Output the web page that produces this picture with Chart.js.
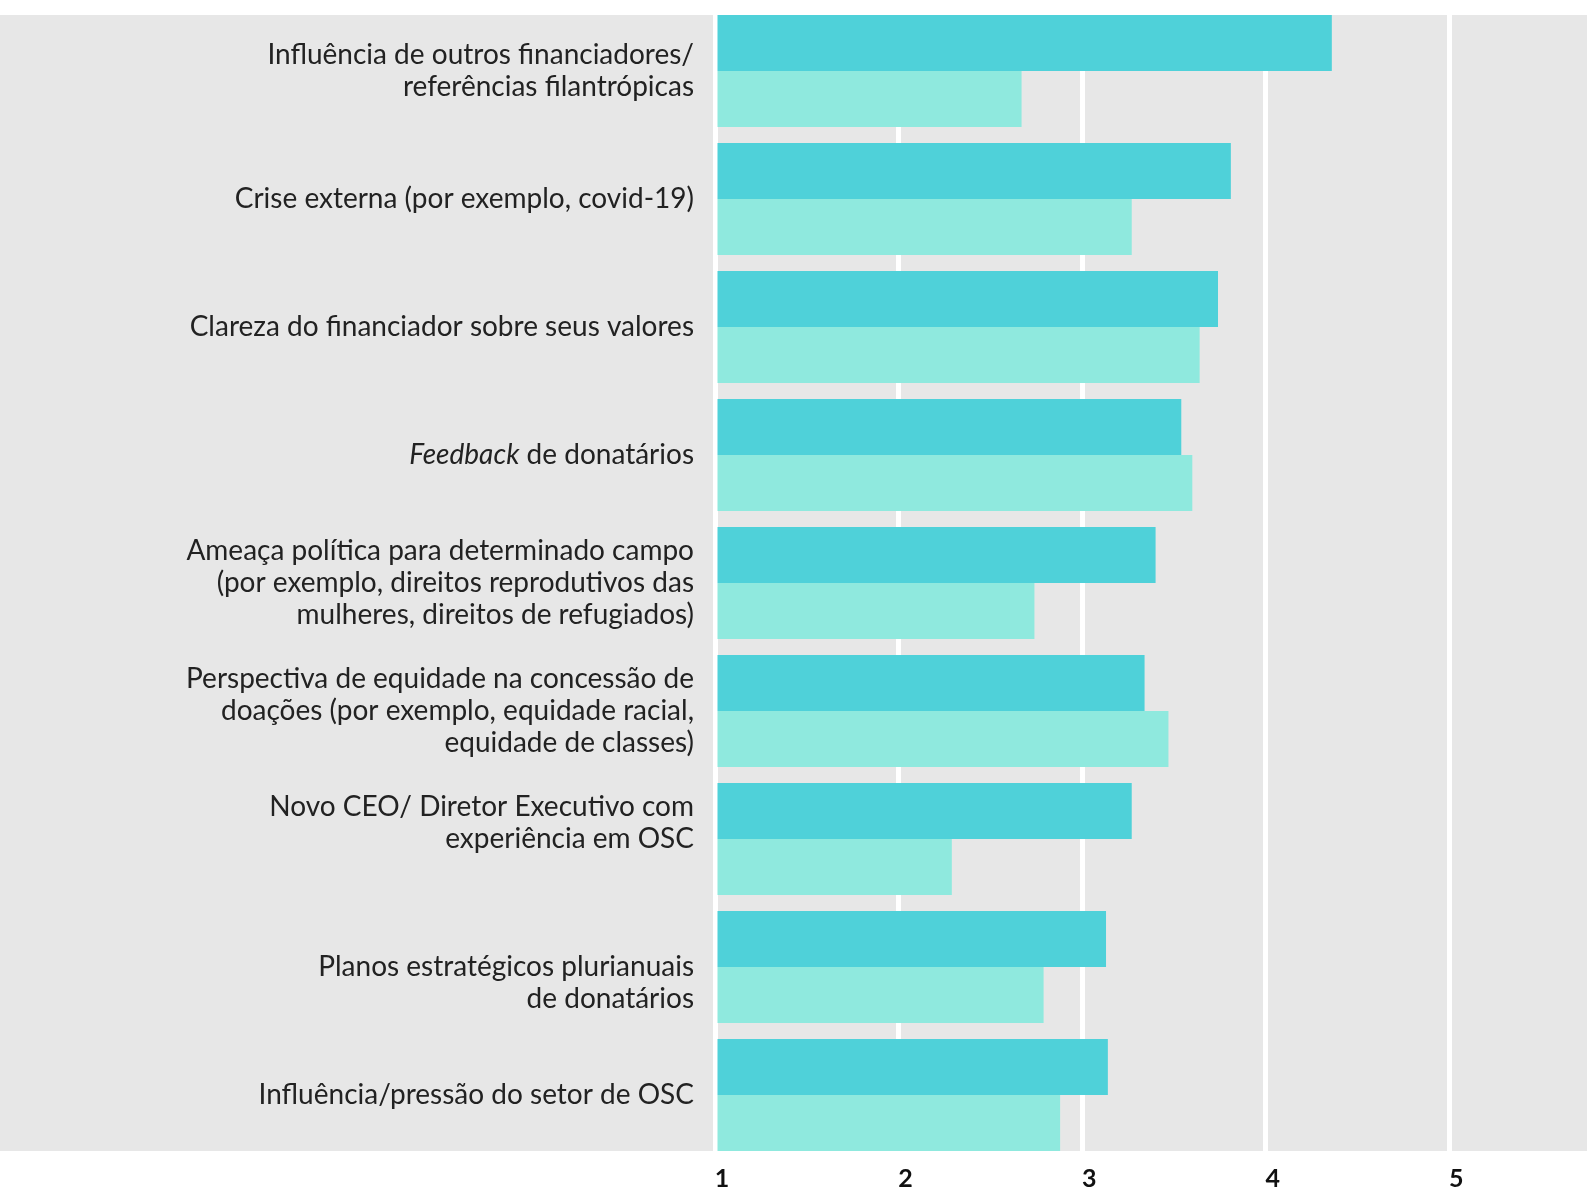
<!DOCTYPE html>
<html>
<head>
<meta charset="utf-8">
<script src="https://cdn.jsdelivr.net/npm/chart.js@4/dist/chart.umd.min.js"></script>
<style>
    body { margin: 0; background: #ffffff; }
    canvas { display: block; }
</style>
</head>
<body>
<canvas id="graph" width="1587" height="1187"></canvas>
<script>
// Categories (one array of lines per bar group, *text* = italic)
var categories = [
    ['Influência de outros financiadores/', 'referências filantrópicas'],
    ['Crise externa (por exemplo, covid-19)'],
    ['Clareza do financiador sobre seus valores'],
    ['*Feedback* de donatários'],
    ['Ameaça política para determinado campo', '(por exemplo, direitos reprodutivos das', 'mulheres, direitos de refugiados)'],
    ['Perspectiva de equidade na concessão de', 'doações (por exemplo, equidade racial,', 'equidade de classes)'],
    ['Novo CEO/ Diretor Executivo com', 'experiência em OSC', ''],
    ['', 'Planos estratégicos plurianuais', 'de donatários'],
    ['Influência/pressão do setor de OSC']
];
// Series values
var seriesA = [4.36, 3.81, 3.74, 3.54, 3.40, 3.34, 3.27, 3.13, 3.14];
var seriesB = [2.67, 3.27, 3.64, 3.60, 2.74, 3.47, 2.29, 2.79, 2.88];
// Tick labels
var tickValues = [1, 2, 3, 4, 5];

var colorA = '#4fd1d9';
var colorB = '#8fe9de';
var panelColor = '#e7e7e7';
var categoryPct = 0.875;
var labelFont = '28px Lato';

// Gray panel behind bars and labels
var panelPlugin = {
    id: 'panel',
    beforeDraw: function (chart) {
        var y = chart.scales.y;
        var band = (y.bottom - y.top) / categories.length;
        var top = y.getPixelForValue(0) - band * categoryPct / 2;
        var bottom = y.getPixelForValue(categories.length - 1) + band * categoryPct / 2;
        var ctx = chart.ctx;
        ctx.save();
        ctx.fillStyle = panelColor;
        ctx.fillRect(0, top, chart.width, bottom - top);
        ctx.restore();
    }
};

// Category labels, right aligned, with italic parts
var labelPlugin = {
    id: 'labels',
    afterDraw: function (chart) {
        var ctx = chart.ctx;
        var y = chart.scales.y;
        var right = chart.chartArea.left - 21;
        var lineH = 32.4;
        ctx.save();
        ctx.fillStyle = '#222222';
        ctx.textBaseline = 'middle';
        ctx.textAlign = 'left';
        categories.forEach(function (lines, i) {
            var cy = y.getPixelForValue(i);
            var startY = cy - (lines.length - 1) * lineH / 2;
            lines.forEach(function (line, j) {
                var parts = line.split('*');
                var widths = [];
                var total = 0;
                parts.forEach(function (p, k) {
                    ctx.font = (k % 2 ? 'italic ' : '') + labelFont;
                    var w = ctx.measureText(p).width;
                    widths.push(w);
                    total += w;
                });
                var x = right - total;
                parts.forEach(function (p, k) {
                    ctx.font = (k % 2 ? 'italic ' : '') + labelFont;
                    ctx.fillText(p, x, startY + j * lineH);
                    x += widths[k];
                });
            });
        });
        ctx.restore();
    }
};

var config = {
    type: 'bar',
    data: {
        labels: categories.map(function (c) { return c.join(' '); }),
        datasets: [
            { label: 'A', data: seriesA, backgroundColor: colorA, base: 1 },
            { label: 'B', data: seriesB, backgroundColor: colorB, base: 1 }
        ]
    },
    options: {
        indexAxis: 'y',
        responsive: false,
        animation: false,
        devicePixelRatio: 1,
        layout: { padding: { top: 7, left: 0, right: 0, bottom: 0 } },
        datasets: {
            bar: { categoryPercentage: categoryPct, barPercentage: 1, borderWidth: 0 }
        },
        plugins: {
            legend: { display: false },
            tooltip: { enabled: false }
        },
        scales: {
            x: {
                min: 1,
                max: 5.75,
                afterBuildTicks: function (scale) {
                    scale.ticks = tickValues.map(function (v) { return { value: v }; });
                },
                afterFit: function (scale) { scale.height = 28; },
                grid: { color: '#ffffff', lineWidth: 5, drawTicks: false },
                border: { display: false },
                ticks: {
                    color: '#111111',
                    font: { family: 'Lato', size: 25, weight: 'bold' },
                    padding: 5,
                    labelOffset: 7,
                    maxRotation: 0
                }
            },
            y: {
                afterFit: function (scale) { scale.width = 715; },
                grid: { display: false },
                border: { display: false },
                ticks: { display: false }
            }
        }
    },
    plugins: [panelPlugin, labelPlugin]
};

new Chart(document.getElementById('graph'), config);
</script>
</body>
</html>
